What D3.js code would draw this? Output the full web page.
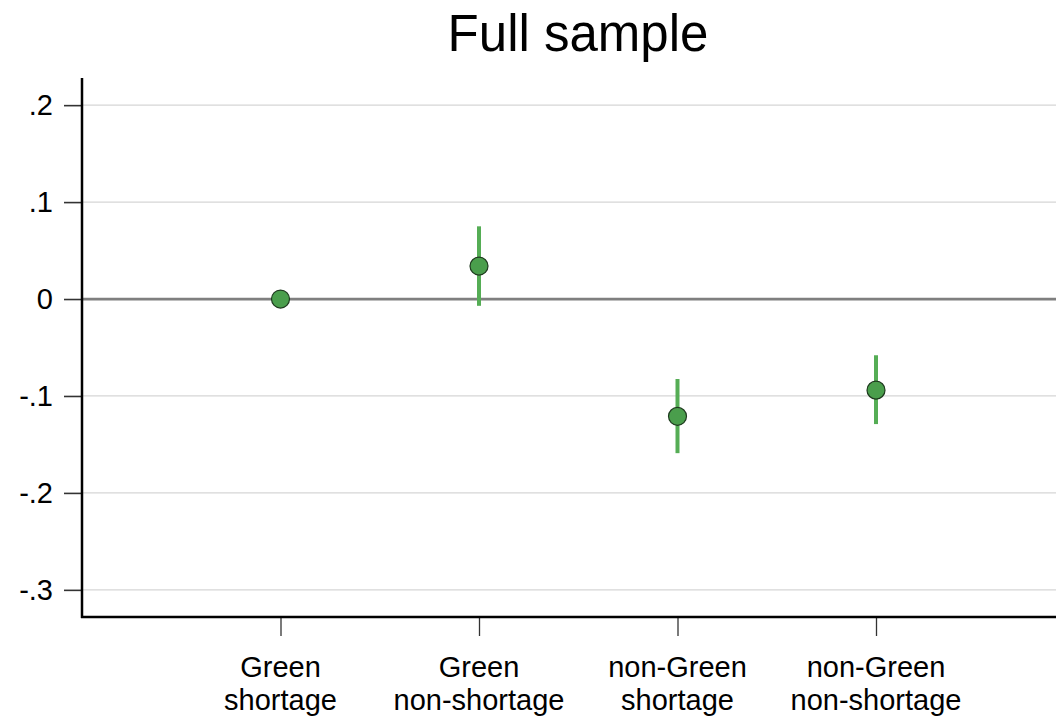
<!DOCTYPE html>
<meta charset="utf-8">
<head>
  <title>Full sample</title>
</head>
<script src="https://d3js.org/d3.v7.min.js"></script>
<style>
  body { margin: 0; background: #fff; }
  text { font-family: "Liberation Sans", Arial, sans-serif; fill: #000; }
</style>
<div id="chart"></div>
<script>
  // chart data
  var categories = [["Green", "shortage"], ["Green", "non-shortage"], ["non-Green", "shortage"], ["non-Green", "non-shortage"]];
  var estimates = [0, 0.034, -0.121, -0.094];
  var ciLow = [0, -0.007, -0.159, -0.129];
  var ciHigh = [0, 0.075, -0.0825, -0.058];
  var yTicks = [0.2, 0.1, 0, -0.1, -0.2, -0.3];
  var yTickLabels = [".2", ".1", "0", "-.1", "-.2", "-.3"];

  var W = 1056, H = 719;
  var margin = {top: 78, left: 82, bottom: 617};

  var svg = d3.select("#chart").append("svg")
      .attr("width", W)
      .attr("height", H);

  // x scale: category index 1..4
  var x = d3.scaleLinear()
      .domain([0, 5])
      .range([margin.left, margin.left + 5 * 198.5]);

  var y = d3.scaleLinear()
      .domain([0.228, -0.328])
      .range([margin.top, margin.bottom]);

  // title
  svg.append("text")
    .attr("x", 578)
    .attr("y", 51)
    .attr("text-anchor", "middle")
    .style("font-size", "51px")
    .text("Full sample");

  // gridlines
  svg.append("g")
    .selectAll("line")
    .data(yTicks.filter(function(d) { return d !== 0; }))
    .enter().append("line")
      .attr("x1", margin.left)
      .attr("x2", W)
      .attr("y1", function(d) { return y(d); })
      .attr("y2", function(d) { return y(d); })
      .attr("stroke", "#d6d6d6")
      .attr("stroke-width", 1.3);

  // zero reference line
  svg.append("line")
    .attr("x1", margin.left)
    .attr("x2", W)
    .attr("y1", y(0))
    .attr("y2", y(0))
    .attr("stroke", "#7f7f7f")
    .attr("stroke-width", 2.8);

  // y axis
  var yAxis = svg.append("g")
    .attr("transform", "translate(" + margin.left + ",0)")
    .call(d3.axisLeft(y)
      .tickValues(yTicks)
      .tickSize(18)
      .tickPadding(11)
      .tickFormat(function(d, i) { return yTickLabels[i]; }));
  yAxis.select(".domain").remove();
  yAxis.selectAll(".tick line").attr("stroke", "#333").attr("stroke-width", 1.6);
  yAxis.selectAll(".tick text")
    .style("font-size", "29px")
    .attr("font-family", null);
  svg.append("line")
    .attr("x1", margin.left).attr("x2", margin.left)
    .attr("y1", margin.top).attr("y2", margin.bottom + 1)
    .attr("stroke", "#000").attr("stroke-width", 2.5);

  // x axis
  var xAxis = svg.append("g")
    .attr("transform", "translate(0," + margin.bottom + ")")
    .call(d3.axisBottom(x).tickValues([1, 2, 3, 4]).tickSize(19).tickFormat(""));
  xAxis.select(".domain").remove();
  xAxis.selectAll(".tick line").attr("stroke", "#333").attr("stroke-width", 1.3);
  svg.append("line")
    .attr("x1", margin.left - 1).attr("x2", W)
    .attr("y1", margin.bottom).attr("y2", margin.bottom)
    .attr("stroke", "#000").attr("stroke-width", 2.5);

  // x labels (two lines)
  var lbl = svg.append("g").selectAll("text")
    .data(categories)
    .enter().append("text")
      .attr("text-anchor", "middle")
      .attr("x", function(d, i) { return x(i + 1); })
      .attr("y", 677)
      .style("font-size", "29px");
  lbl.append("tspan")
    .attr("x", function(d, i) { return x(i + 1); })
    .text(function(d) { return d[0]; });
  lbl.append("tspan")
    .attr("x", function(d, i) { return x(i + 1); })
    .attr("dy", 33)
    .text(function(d) { return d[1]; });

  // confidence intervals
  svg.append("g")
    .selectAll("line")
    .data(estimates)
    .enter().append("line")
      .attr("x1", function(d, i) { return x(i + 1); })
      .attr("x2", function(d, i) { return x(i + 1); })
      .attr("y1", function(d, i) { return y(ciHigh[i]); })
      .attr("y2", function(d, i) { return y(ciLow[i]); })
      .attr("stroke", "#55ad55")
      .attr("stroke-width", 4);

  // point estimates
  svg.append("g")
    .selectAll("circle")
    .data(estimates)
    .enter().append("circle")
      .attr("cx", function(d, i) { return x(i + 1); })
      .attr("cy", function(d) { return y(d); })
      .attr("r", 9)
      .attr("fill", "#4a9e4c")
      .attr("stroke", "#1f3a1f")
      .attr("stroke-width", 1.2);
</script>
